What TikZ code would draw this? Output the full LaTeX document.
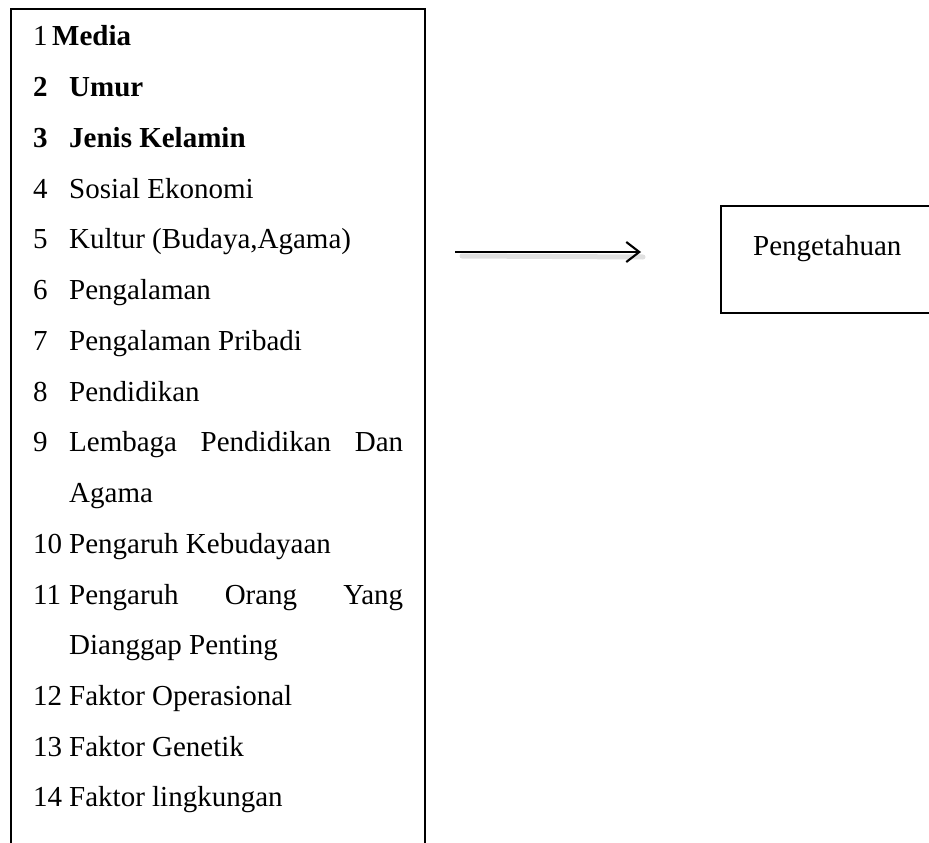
\documentclass[tikz,border=0pt]{standalone}
\usepackage{fontspec}
\setmainfont{Liberation Serif}
\usetikzlibrary{arrows.meta}
\tikzset{
  txt/.style={anchor=base west, inner sep=0pt, font=\fontsize{29}{31}\selectfont},
  frame/.style={line width=2.8pt, line join=miter},
  thinframe/.style={line width=1.8pt},
  arr/.style={line width=2.1pt, -{Straight Barb[length=13pt,width=20pt,line width=2.1pt]}},
  arrshadow/.style={line width=5pt, draw=black!12, line cap=round}
}
\begin{document}
\begin{tikzpicture}[x=1pt,y=-1pt]
\useasboundingbox (0,0) rectangle (929,843);
% left frame (open at the bottom)
\draw[frame] (11,860) -- (11,9) -- (425,9) -- (425,860);
% right box (cut at the right edge)
\draw[thinframe] (960,206) -- (721,206) -- (721,313) -- (960,313);
\node[txt] (peng) at (753,255) {Pengetahuan};
% list
\def\bl#1{\fpeval{46+50.73*(#1-1)}}
\node[txt] (n1) at (33,{\bl{1}}) {1};
\node[txt] (t1) at (52,{\bl{1}}) {\bfseries Media};
\node[txt] (n2) at (33,{\bl{2}}) {\bfseries 2};
\node[txt] (t2) at (69,{\bl{2}}) {\bfseries Umur};
\node[txt] (n3) at (33,{\bl{3}}) {\bfseries 3};
\node[txt] (t3) at (69,{\bl{3}}) {\bfseries Jenis Kelamin};
\node[txt] (n4) at (33,{\bl{4}}) {4};
\node[txt] (t4) at (69,{\bl{4}}) {Sosial Ekonomi};
\node[txt] (n5) at (33,{\bl{5}}) {5};
\node[txt] (t5) at (69,{\bl{5}}) {Kultur (Budaya,Agama)};
\node[txt] (n6) at (33,{\bl{6}}) {6};
\node[txt] (t6) at (69,{\bl{6}}) {Pengalaman};
\node[txt] (n7) at (33,{\bl{7}}) {7};
\node[txt] (t7) at (69,{\bl{7}}) {Pengalaman Pribadi};
\node[txt] (n8) at (33,{\bl{8}}) {8};
\node[txt] (t8) at (69,{\bl{8}}) {Pendidikan};
\node[txt] (n9) at (33,{\bl{9}}) {9};
\node[txt] (t9) at (69,{\bl{9}}) {\makebox[334pt][s]{Lembaga Pendidikan Dan}};
\node[txt] (t9b) at (69,{\bl{10}}) {Agama};
\node[txt] (n10) at (33,{\bl{11}}) {10};
\node[txt] (t10) at (69,{\bl{11}}) {Pengaruh Kebudayaan};
\node[txt] (n11) at (33,{\bl{12}}) {11};
\node[txt] (t11) at (69,{\bl{12}}) {\makebox[334pt][s]{Pengaruh Orang Yang}};
\node[txt] (t11b) at (69,{\bl{13}}) {Dianggap Penting};
\node[txt] (n12) at (33,{\bl{14}}) {12};
\node[txt] (t12) at (69,{\bl{14}}) {Faktor Operasional};
\node[txt] (n13) at (33,{\bl{15}}) {13};
\node[txt] (t13) at (69,{\bl{15}}) {Faktor Genetik};
\node[txt] (n14) at (33,{\bl{16}}) {14};
\node[txt] (t14) at (69,{\bl{16}}) {Faktor lingkungan};
% arrow
\coordinate (a0) at (455,252);
\coordinate (a1) at (641,252);
\coordinate (s0) at (462,256);
\coordinate (s1) at (643,257);
\draw[arrshadow] (s0) -- (s1);
\draw[arr] (a0) -- (a1);
\end{tikzpicture}
\end{document}
